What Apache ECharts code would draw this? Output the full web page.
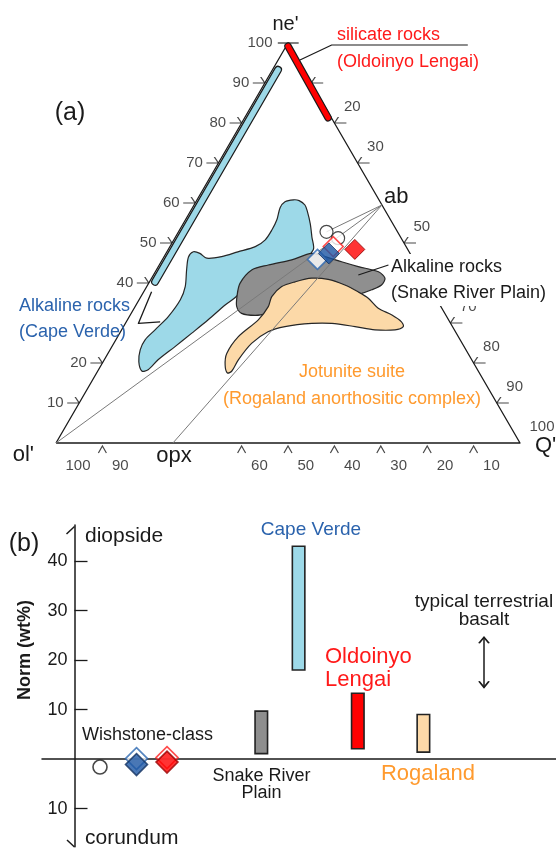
<!DOCTYPE html>
<html><head><meta charset="utf-8">
<script src="https://cdn.jsdelivr.net/npm/echarts@6/dist/echarts.min.js"></script>
<style>html,body{margin:0;padding:0;background:#fff}#c{width:556px;height:848px}</style>
</head><body><div id="c"></div>
<script>
// ---------- (a) ternary ne'-ol'-Q' : points as [ne', Q'] (ol' = 100 - ne' - Q') ----------
const vertexAb = [59.5, 40.5];
const vertexOpx = [0, 25.2];
const capeVerdeField = [[60.8,20.8],[60.6,22.1],[59.5,23.9],[57.8,25.3],[54.8,27.4],[51.5,29.4],[48.3,31.3],[45.3,30.0],[42.8,23.7],[40.3,20.6],[37.0,20.7],[34.5,19.2],[30.8,17.4],[27.4,15.5],[24.1,13.6],[20.8,11.6],[18.3,10.7],[18.0,9.5],[20.3,7.7],[23.3,6.5],[25.8,6.3],[28.3,7.2],[31.6,8.4],[35.8,8.9],[39.1,8.3],[43.3,6.5],[46.5,5.3],[47.8,5.7],[47.4,7.3],[46.2,9.4],[46.6,12.4],[47.8,15.3],[49.1,18.4],[50.8,19.7],[53.3,19.9],[55.8,19.7],[58.8,18.9],[60.3,19.2]];
const snakeRiverField = [[36.6,20.7],[39.9,19.7],[43.3,20.6],[44.5,23.5],[45.8,27.9],[47.4,31.4],[46.6,34.7],[45.3,38.9],[44.1,43.1],[42.8,48.1],[41.2,50.3],[39.5,50.4],[38.3,48.9],[37.3,46.9],[35.8,41.2],[33.8,32.5],[32.4,29.5],[31.9,27.0],[32.4,23.8],[34.1,21.9]];
const rogalandField = [[36.6,28.2],[39.1,29.1],[40.3,31.4],[41.2,34.5],[40.9,38.2],[39.5,42.5],[37.8,46.2],[36.2,49.2],[33.7,52.6],[32.0,56.4],[30.3,59.3],[29.1,60.3],[28.3,58.9],[28.3,54.6],[29.1,49.9],[29.9,44.5],[29.9,40.2],[29.1,34.8],[27.8,31.8],[24.9,29.7],[20.8,28.9],[18.0,28.9],[17.5,28.2],[19.5,26.7],[22.4,25.6],[26.6,26.0],[30.8,28.2],[34.1,28.7]];
const capeVerdeEdgeRange = [[40.3,1.2],[93.3,1.2]];
const lengaiEdgeRange = [[99.2,0.4],[81.3,18.0]];
const wishstoneCircles = [[52.8,31.9],[51.2,35.2]];
const wishstoneBlueOpen = [[45.9,33.4]];
const wishstoneRedOpen = [[49.1,35.2]];
const wishstoneBlue = [[47.4,35.1]];
const wishstoneRed = [[48.4,40.2]];
const neTicks = [10,20,40,50,60,70,80,90];
const neTickLabels = [10,20,40,50,60,70,80,90,100];
const qTicks = [10,20,30,50,60,70,80,90];
const qTickLabels = [20,30,50,70,80,90,100];
const olTicks = [90,60,50,40,30,20,10];
const olTickLabels = [100,90,60,50,40,30,20,10];
// annotation leaders (ternary coords)
const lengaiLeader = [[95.75,4.7],[99.5,9.67],[99.5,39.0]];
const capeVerdeLeader = [[37.8,1.7],[29.9,2.8],[30.3,7.3]];
const snakeLeader = [[42.0,44.15],[44.5,49.4]];
const apexTick = [[100,-2.2],[100,2.3]];

// ---------- (b) norm diopside / corundum (wt%) ----------
const normGroups = ['Snake River Plain','Cape Verde','Oldoinyo Lengai','Rogaland'];
const normLow  = [1.1, 18.0, 2.1, 1.4];
const normHigh = [9.7, 43.0, 13.3, 9.0];
const wishstoneKinds = ['circle','blueOpen','blue','redOpen','red'];
const wishstoneNorm = [-1.6, 0.1, -1.1, 0.3, -0.6];
const basaltRange = [14.5, 24.6];
const normTicks = [-10, 10, 20, 30, 40];

// ---------- layout / style (not data) ----------
const FONT = '"Liberation Sans", Arial, Helvetica, sans-serif';
const colX = {circle:58, blueOpen:94.5, blue:94.5, redOpen:125, red:125,
  'Snake River Plain':219.3, 'Cape Verde':256.6, 'Oldoinyo Lengai':315.8, 'Rogaland':381.4, basalt:442};
const barFill = {'Snake River Plain':'#8e8e8e','Cape Verde':'#9dd9e8','Oldoinyo Lengai':'#ff0000','Rogaland':'#fcd9a8'};
const wsStyle = {
  circle:{symbol:'circle', size:14, fill:'#fff', stroke:'#1a1a1a'},
  blueOpen:{symbol:'diamond', size:22, fill:'#fff', stroke:'#2a66b0'},
  blue:{symbol:'diamond', size:22, fill:'#1c55a3', stroke:'#10305e'},
  redOpen:{symbol:'diamond', size:22, fill:'#fff', stroke:'#ff2020'},
  red:{symbol:'diamond', size:22, fill:'#ff0000', stroke:'#9a0000'}
};

const tern = p => [p[1] + p[0] / 2, p[0]];

function field(pts, fill) {
  return {type:'custom', xAxisIndex:0, yAxisIndex:0, silent:true, z:1, clip:false,
    data:[[50,50]],
    renderItem:(params, api) => ({type:'polygon',
      shape:{points: pts.map(p => api.coord(tern(p))), smooth:0.3},
      style:{fill, stroke:'#262626', lineWidth:1.2}})};
}
function seg(pts, color, width, z, cap) {
  return {type:'line', xAxisIndex:0, yAxisIndex:0, data:pts.map(tern), symbol:'none',
    silent:true, clip:false, z, lineStyle:{color, width, cap: cap || 'butt', join:'round'}};
}
function tickSym(pts, path, size, offset) {
  return {type:'scatter', xAxisIndex:0, yAxisIndex:0, data:pts, symbol:path, symbolSize:size,
    symbolOffset:offset, silent:true, z:3, clip:false,
    itemStyle:{color:'rgba(0,0,0,0)', borderColor:'#1a1a1a', borderWidth:1.1}};
}
function tickLab(pts, labels, pos, align) {
  return {type:'scatter', xAxisIndex:0, yAxisIndex:0, symbolSize:1, silent:true, z:3, clip:false,
    itemStyle:{color:'rgba(0,0,0,0)'},
    data: pts.map((p,i) => ({value:p, name:String(labels[i])})),
    label:{show:true, formatter:'{b}', position:pos, align, verticalAlign:'middle',
      fontSize:15, fontFamily:FONT, color:'#1a1a1a'}};
}
function pts(list, symbol, size, fill, stroke, bw) {
  return {type:'scatter', xAxisIndex:0, yAxisIndex:0, data:list.map(tern), symbol, symbolSize:size,
    silent:true, z:6, clip:false, itemStyle:{color:fill, borderColor:stroke, borderWidth:bw}};
}

const series = [
  field(capeVerdeField, '#9dd9e8'),
  field(snakeRiverField, '#8f8f8f'),
  field(rogalandField, '#fcd9a8'),
  seg([[0,0],[0,100],[100,0],[0,0]], '#1a1a1a', 1.3, 2),
  seg(apexTick, '#1a1a1a', 1.1, 2),
  seg([vertexAb,[0,0]], '#7a7a7a', 1, 3),
  seg([vertexAb,vertexOpx], '#7a7a7a', 1, 3),
  seg([vertexAb,wishstoneCircles[0]], '#7a7a7a', 1, 3),
  seg(capeVerdeEdgeRange, '#1a1a1a', 8, 4, 'round'),
  seg(capeVerdeEdgeRange, '#9dd9e8', 5.5, 4, 'round'),
  seg(lengaiEdgeRange, '#1a1a1a', 7.5, 4, 'round'),
  seg(lengaiEdgeRange, '#ff0000', 5.2, 4, 'round'),
  seg(lengaiLeader, '#1a1a1a', 1.2, 3),
  seg(capeVerdeLeader, '#1a1a1a', 1.3, 3),
  seg(snakeLeader, '#1a1a1a', 1.2, 3),
  tickSym(neTicks.map(v => tern([v,0])), 'path://M0,6 L12,6 M8,0 L12,6', [12,6], [-6,-3]),
  tickSym(qTicks.map(v => tern([100-v,v])), 'path://M0,6 L12,6 M4,0 L0,6', [12,6], [6,-3]),
  tickSym(olTicks.map(v => tern([0,100-v])), 'path://M0,7 L4,0 L8,7', [8,7], [0,6.5]),
  tickLab(neTickLabels.map(v => tern([v,0])), neTickLabels, [-15,0], 'right'),
  tickLab(qTickLabels.map(v => tern([100-v,v])), qTickLabels, [10,-16], 'left'),
  tickLab(olTickLabels.map(v => tern([0,100-v])), olTickLabels, [10,23], 'left'),
  pts(wishstoneCircles, 'circle', 13, '#ffffff', '#1a1a1a', 1.2),
  pts(wishstoneRedOpen, 'diamond', 20, '#ffffff', '#ff2020', 1.5),
  pts(wishstoneBlueOpen, 'diamond', 20, '#ffffff', '#2a66b0', 1.6),
  pts(wishstoneBlue, 'diamond', 21, '#1c55a3', '#10305e', 1),
  pts(wishstoneRed, 'diamond', 20, '#ff0000', '#8a0000', 1),
  // ---- (b) ----
  {type:'custom', xAxisIndex:1, yAxisIndex:1, silent:true, z:4, encode:{x:0, y:[1,2]},
    data: normGroups.map((g,i) => [colX[g], normLow[i], normHigh[i]]),
    renderItem:(params, api) => {
      const g = normGroups[params.dataIndex];
      const top = api.coord([api.value(0), api.value(2)]);
      const bot = api.coord([api.value(0), api.value(1)]);
      const w = 12.5;
      return {type:'rect', shape:{x:top[0]-w/2, y:top[1], width:w, height:bot[1]-top[1]},
        style:{fill:barFill[g], stroke:'#222', lineWidth:1.6}};
    }},
  {type:'scatter', xAxisIndex:1, yAxisIndex:1, silent:true, z:5,
    data: wishstoneKinds.map((k,i) => ({value:[colX[k], wishstoneNorm[i]], symbol:wsStyle[k].symbol,
      symbolSize:wsStyle[k].size,
      itemStyle:{color:wsStyle[k].fill, borderColor:wsStyle[k].stroke, borderWidth:1.6}}))},
  {type:'line', xAxisIndex:1, yAxisIndex:1, silent:true, z:5,
    data:[{value:[colX.basalt, basaltRange[1]], symbol:'path://M0,6 L5,0 L10,6', symbolOffset:[0,3]},
          {value:[colX.basalt, basaltRange[0]], symbol:'path://M0,0 L5,6 L10,0', symbolOffset:[0,-3]}],
    symbolSize:[10,6], showSymbol:true,
    lineStyle:{color:'#1a1a1a', width:1.5},
    itemStyle:{color:'rgba(0,0,0,0)', borderColor:'#1a1a1a', borderWidth:1.5}}
];

function T(x, y, text, o) {
  o = o || {};
  return {type:'text', x, y, z:100, silent:true, rotation:o.rotation || 0,
    style:{text, fill:o.fill || '#1a1a1a', fontSize:o.size || 18, fontFamily:FONT,
      fontWeight:o.weight || 'normal', align:o.align || 'left', verticalAlign:'middle',
      backgroundColor:o.bg, padding:o.pad}};
}
const blueT = '#2b63ad', redT = '#ff1a1a', orangeT = '#ff9a2e';
const graphic = [
  T(285.5, 24, "ne'", {size:20, align:'center'}),
  T(70, 113, '(a)', {size:25, align:'center'}),
  T(337, 35, 'silicate rocks', {fill:redT}),
  T(337, 62, '(Oldoinyo Lengai)', {fill:redT}),
  T(384, 197, 'ab', {size:22}),
  T(389, 267, 'Alkaline rocks', {bg:'#fff', pad:[4,4,4,2]}),
  T(389, 293, '(Snake River Plain)', {bg:'#fff', pad:[4,4,4,2]}),
  T(19, 306, 'Alkaline rocks', {fill:blueT}),
  T(19, 332, '(Cape Verde)', {fill:blueT}),
  T(352, 372, 'Jotunite suite', {fill:orangeT, align:'center'}),
  T(352, 399, '(Rogaland anorthositic complex)', {fill:orangeT, align:'center'}),
  T(34, 455, "ol'", {size:22, align:'right'}),
  T(174, 456, 'opx', {size:22, align:'center'}),
  T(535, 446, "Q'", {size:22}),
  T(24, 544, '(b)', {size:25, align:'center'}),
  T(85, 536, 'diopside', {size:21}),
  T(85, 838, 'corundum', {size:21}),
  T(25, 650, 'Norm (wt%)', {size:18, weight:'bold', align:'center', rotation:Math.PI/2}),
  T(311, 530, 'Cape Verde', {size:19, fill:blueT, align:'center'}),
  T(325, 657, 'Oldoinyo', {size:22, fill:redT}),
  T(325, 680, 'Lengai', {size:22, fill:redT}),
  T(484, 602, 'typical terrestrial', {size:19, align:'center'}),
  T(484, 620, 'basalt', {size:19, align:'center'}),
  T(82, 735, 'Wishstone-class', {size:18}),
  T(261.5, 776, 'Snake River', {size:18, align:'center'}),
  T(261.5, 793, 'Plain', {size:18, align:'center'}),
  T(428, 774, 'Rogaland', {size:22, fill:orangeT, align:'center'}),
  {type:'polyline', z:100, silent:true, shape:{points:[[66.5,534],[74.5,526.5]]}, style:{stroke:'#1a1a1a', lineWidth:1.5, fill:null}},
  {type:'polyline', z:100, silent:true, shape:{points:[[67,840],[74.5,847]]}, style:{stroke:'#1a1a1a', lineWidth:1.5, fill:null}}
];

const chart = echarts.init(document.getElementById('c'), null, {renderer:'canvas'});
chart.setOption({
  animation:false,
  backgroundColor:'#ffffff',
  textStyle:{fontFamily:FONT},
  grid:[
    {left:56, top:43, width:464, height:400},
    {left:42, top:525, width:514, height:321.7}
  ],
  xAxis:[
    {gridIndex:0, type:'value', min:0, max:100, show:false},
    {gridIndex:1, type:'value', min:0, max:514, show:true,
      axisLine:{show:true, onZero:true, lineStyle:{color:'#1a1a1a', width:1.5}},
      axisTick:{show:false}, axisLabel:{show:false}, splitLine:{show:false}}
  ],
  yAxis:[
    {gridIndex:0, type:'value', min:0, max:100, show:false},
    {gridIndex:1, type:'value', min:-17.7, max:47.3, position:'left', offset:-32.5,
      axisLine:{show:true, onZero:false, lineStyle:{color:'#1a1a1a', width:1.5}},
      axisTick:{show:true, inside:true, length:13, customValues:normTicks, lineStyle:{color:'#1a1a1a', width:1.3}},
      axisLabel:{show:true, customValues:normTicks, formatter:v => String(Math.abs(v)), fontSize:18,
        fontFamily:FONT, color:'#1a1a1a', margin:7},
      splitLine:{show:false}}
  ],
  series,
  graphic
});
</script></body></html>
